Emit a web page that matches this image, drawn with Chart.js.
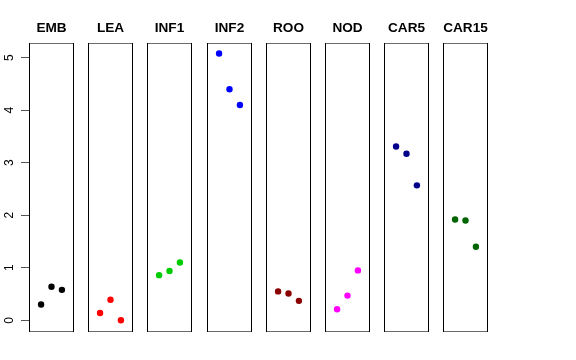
<!DOCTYPE html>
<html>
<head>
<meta charset="utf-8">
<script src="https://cdn.jsdelivr.net/npm/chart.js@4/dist/chart.umd.min.js"></script>
<style>
  html, body { margin: 0; padding: 0; background: #fff; }
  #wrap { position: relative; width: 576px; height: 360px; overflow: hidden; }
  #wrap canvas { position: absolute; top: 0; }
</style>
</head>
<body>
<div id="wrap"></div>
<script>
// ---- data ----
const categories = ["EMB", "LEA", "INF1", "INF2", "ROO", "NOD", "CAR5", "CAR15"];
const xPositions = [1, 2, 3];
const valuesEMB   = [0.30, 0.64, 0.58];
const valuesLEA   = [0.14, 0.39, 0.00];
const valuesINF1  = [0.86, 0.94, 1.10];
const valuesINF2  = [5.08, 4.40, 4.10];
const valuesROO   = [0.55, 0.51, 0.37];
const valuesNOD   = [0.21, 0.47, 0.95];
const valuesCAR5  = [3.31, 3.17, 2.57];
const valuesCAR15 = [1.92, 1.90, 1.40];
const yTicks = [0, 1, 2, 3, 4, 5];

const seriesValues = [valuesEMB, valuesLEA, valuesINF1, valuesINF2, valuesROO, valuesNOD, valuesCAR5, valuesCAR15];
const colors = ["#000000", "#FF0000", "#00CD00", "#0000FF", "#8B0000", "#FF00FF", "#00008B", "#006400"];

// ---- layout ----
const FONT = "'Liberation Sans', Arial, Helvetica, sans-serif";
const panelLefts = [29, 88, 147, 207, 266, 325, 384, 443];
const panelW = 45;
const axisW = 29;
const canvasH = 332;
const yMin = -0.223, yMax = 5.28;
const xMin = -0.16, xMax = 4.16;

const boxPlugin = {
  id: 'panelBox',
  afterDatasetsDraw(chart) {
    const a = chart.chartArea;
    const c = chart.ctx;
    c.save();
    c.lineWidth = 1;
    c.strokeStyle = '#6a6a6a';
    c.beginPath();
    c.moveTo(a.left, a.top + 0.5); c.lineTo(a.right, a.top + 0.5);
    c.moveTo(a.left, a.bottom - 0.5); c.lineTo(a.right, a.bottom - 0.5);
    c.stroke();
    c.strokeStyle = '#000000';
    c.beginPath();
    c.moveTo(a.left + 0.5, a.top); c.lineTo(a.left + 0.5, a.bottom);
    c.moveTo(a.right - 0.5, a.top); c.lineTo(a.right - 0.5, a.bottom);
    c.stroke();
    c.restore();
  }
};

const yLabelPlugin = {
  id: 'yRotLabels',
  afterDraw(chart) {
    const s = chart.scales.y;
    if (!s.options.display) return;
    const c = chart.ctx;
    c.save();
    c.fillStyle = '#000';
    c.font = '12px ' + FONT;
    c.textAlign = 'center';
    c.textBaseline = 'alphabetic';
    s.ticks.forEach(t => {
      const py = s.getPixelForValue(t.value);
      c.save();
      c.translate(12.5, py);
      c.rotate(-Math.PI / 2);
      c.fillText(String(t.value), 0, 0);
      c.restore();
    });
    c.restore();
  }
};

const wrap = document.getElementById('wrap');
categories.forEach((cat, i) => {
  const first = i === 0;
  const cv = document.createElement('canvas');
  const w = panelW + (first ? axisW : 0);
  cv.width = w; cv.height = canvasH;
  cv.style.width = w + 'px'; cv.style.height = canvasH + 'px';
  cv.style.left = (panelLefts[i] - (first ? axisW : 0)) + 'px';
  wrap.appendChild(cv);

  const yScale = {
    type: 'linear',
    min: yMin, max: yMax,
    display: first,
    afterBuildTicks: s => { s.ticks = yTicks.map(v => ({ value: v })); },
    ticks: { display: false },
    border: { display: false },
    grid: {
      display: true,
      drawOnChartArea: false,
      drawTicks: true,
      tickLength: 8,
      color: '#555',
      lineWidth: 1
    }
  };
  if (first) yScale.afterFit = s => { s.width = axisW; };

  new Chart(cv, {
    type: 'scatter',
    data: {
      datasets: [{
        label: cat,
        data: xPositions.map((x, k) => ({ x: x, y: seriesValues[i][k] })),
        backgroundColor: colors[i],
        borderColor: colors[i],
        borderWidth: 0,
        pointRadius: 3.2,
        pointHoverRadius: 3.2
      }]
    },
    options: {
      responsive: false,
      animation: false,
      devicePixelRatio: 1,
      layout: { padding: 0, autoPadding: false },
      plugins: {
        legend: { display: false },
        tooltip: { enabled: false },
        title: {
          display: true,
          fullSize: false,
          text: cat,
          color: '#000',
          font: { family: FONT, size: 13.6, weight: 'bold', lineHeight: 1.2 },
          padding: { top: 20, bottom: 6.7 }
        }
      },
      scales: {
        x: { type: 'linear', min: xMin, max: xMax, display: false },
        y: yScale
      }
    },
    plugins: [boxPlugin, yLabelPlugin]
  });
});
</script>
</body>
</html>
